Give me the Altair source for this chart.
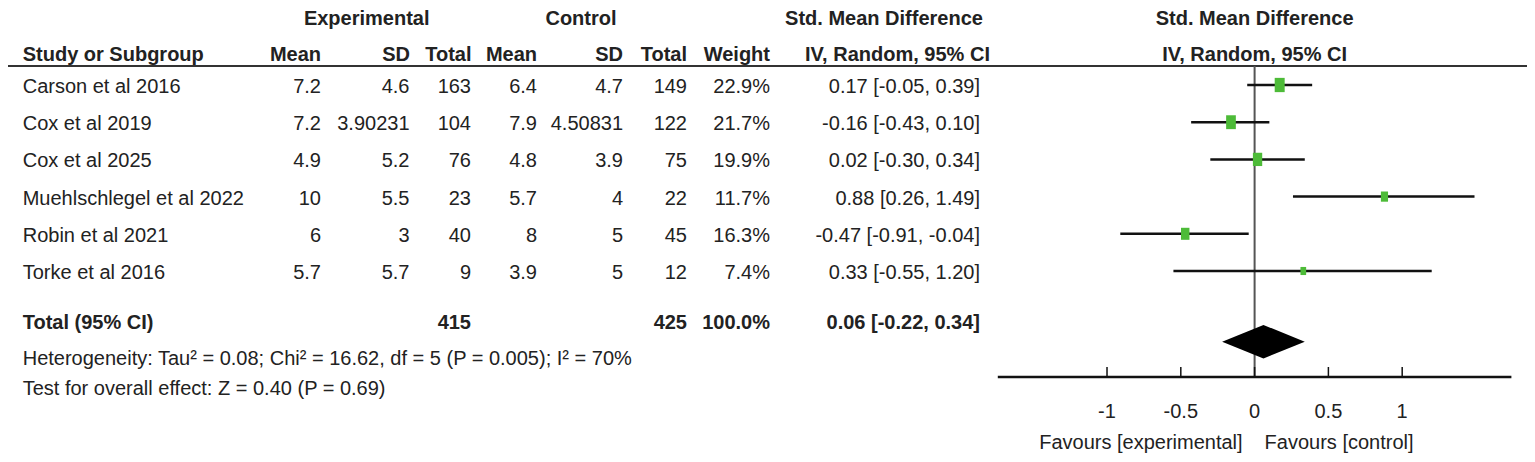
import altair as alt
import pandas as pd

# ---------------- data ----------------
studies = ["Carson et al 2016", "Cox et al 2019", "Cox et al 2025",
           "Muehlschlegel et al 2022", "Robin et al 2021", "Torke et al 2016"]
exp_mean = [7.2, 7.2, 4.9, 10, 6, 5.7]
exp_sd = [4.6, 3.90231, 5.2, 5.5, 3, 5.7]
exp_total = [163, 104, 76, 23, 40, 9]
ctl_mean = [6.4, 7.9, 4.8, 5.7, 8, 3.9]
ctl_sd = [4.7, 4.50831, 3.9, 4, 5, 5]
ctl_total = [149, 122, 75, 22, 45, 12]
weights = [22.9, 21.7, 19.9, 11.7, 16.3, 7.4]
smd = [0.17, -0.16, 0.02, 0.88, -0.47, 0.33]
ci_low = [-0.05, -0.43, -0.30, 0.26, -0.91, -0.55]
ci_high = [0.39, 0.10, 0.34, 1.49, -0.04, 1.20]

total_label = "Total (95% CI)"
total_exp = 415
total_ctl = 425
total_weight = 100.0
total_smd = 0.06
total_low = -0.22
total_high = 0.34

heterogeneity = "Heterogeneity: Tau² = 0.08; Chi² = 16.62, df = 5 (P = 0.005); I² = 70%"
overall_effect = "Test for overall effect: Z = 0.40 (P = 0.69)"
tick_values = [-1, -0.5, 0, 0.5, 1]
tick_labels = ["-1", "-0.5", "0", "0.5", "1"]
axis_limits = [-1.74, 1.74]
favours_left = "Favours [experimental]"
favours_right = "Favours [control]"

# ---------------- layout / style ----------------
W, H = 1519, 446
ROW0, ROWH = 77, 37.2
FONT = "Liberation Sans, Arial, sans-serif"
FS = 20
TXT = "#222222"
GREEN = "#4dbb38"
TEXT_DY = 2

yscale = alt.Scale(domain=[0, 10], range=[ROW0, ROW0 + 10 * ROWH], zero=False, nice=False)
xscale = alt.Scale(domain=axis_limits, range=[989.8, 1503.4], zero=False, nice=False)

ROW_H1, ROW_H2, ROW_LINE = -1.78, -0.81, -0.51
ROW_TOTAL = len(studies) + 0.9
ROW_AXIS, ROW_TICKTOP, ROW_TICKLAB, ROW_FAV = 7.85, 7.58, 8.79, 9.62
ROW_HET, ROW_TEST = 7.37, 8.17
DIAMOND_HALF = 0.45


def fmt(v):
    return f"{v:g}"


df = pd.DataFrame({
    "r": list(range(len(studies))),
    "study": studies,
    "em": [fmt(v) for v in exp_mean],
    "es": [fmt(v) for v in exp_sd],
    "et": [str(v) for v in exp_total],
    "cm": [fmt(v) for v in ctl_mean],
    "cs": [fmt(v) for v in ctl_sd],
    "ct": [str(v) for v in ctl_total],
    "w": [f"{v:.1f}%" for v in weights],
    "ci": [f"{s:.2f} [{l:.2f}, {h:.2f}]" for s, l, h in zip(smd, ci_low, ci_high)],
    "weight": weights,
    "smd": smd,
    "lo": ci_low,
    "hi": ci_high,
})

Y = alt.Y("r:Q", scale=yscale, axis=None)
XV = alt.X("v:Q", scale=xscale, axis=None)


def txt(data, field, x, align="right", bold=False, dy=0, dx=0):
    return alt.Chart(data).mark_text(
        align=align, baseline="middle", font=FONT, fontSize=FS,
        fontWeight="bold" if bold else "normal", color=TXT, dy=dy, dx=dx
    ).encode(x=x, y=Y, text=field)


def const_txt(s, x, row, align="right", bold=False, dy=0, dx=0, v=None):
    d = pd.DataFrame({"t": [s], "r": [row], "v": [v if v is not None else 0]})
    return txt(d, "t:N", x, align, bold, dy, dx)


layers = []

# header line
layers.append(alt.Chart(pd.DataFrame({"r": [ROW_LINE]})).mark_rule(
    color="#333333", strokeWidth=2).encode(x=alt.value(0), x2=alt.value(1522), y=Y))

# header row 1
layers.append(const_txt("Experimental", alt.value(358.7), ROW_H1, "center", True))
layers.append(const_txt("Control", alt.value(573), ROW_H1, "center", True))
layers.append(const_txt("Std. Mean Difference", alt.value(876), ROW_H1, "center", True))
# header row 2
cols = [("Mean", 313), ("SD", 402), ("Total", 463.5), ("Mean", 529), ("SD", 615),
        ("Total", 679), ("Weight", 762)]
layers.append(const_txt("Study or Subgroup", alt.value(14.7), ROW_H2, "left", True))
for name, xp in cols:
    layers.append(const_txt(name, alt.value(xp), ROW_H2, "right", True))
layers.append(const_txt("IV, Random, 95% CI", alt.value(889.5), ROW_H2, "center", True))

# forest headers (centred on the zero line)
layers.append(const_txt("Std. Mean Difference", XV, ROW_H1, "center", True, v=0))
layers.append(const_txt("IV, Random, 95% CI", XV, ROW_H2, "center", True, v=0))

# study rows
layers.append(txt(df, "study:N", alt.value(14.7), "left", dy=TEXT_DY))
for field, xp in [("em", 313), ("es", 401.5), ("et", 463), ("cm", 529), ("cs", 615),
                  ("ct", 679), ("w", 762), ("ci", 972)]:
    layers.append(txt(df, f"{field}:N", alt.value(xp), "right", dy=TEXT_DY))

# total row
TOT_DY = -19
layers.append(const_txt(total_label, alt.value(14.7), ROW_TOTAL, "left", True, TOT_DY))
layers.append(const_txt(str(total_exp), alt.value(463), ROW_TOTAL, "right", True, TOT_DY))
layers.append(const_txt(str(total_ctl), alt.value(679), ROW_TOTAL, "right", True, TOT_DY))
layers.append(const_txt(f"{total_weight:.1f}%", alt.value(762), ROW_TOTAL, "right", True, TOT_DY))
layers.append(const_txt(f"{total_smd:.2f} [{total_low:.2f}, {total_high:.2f}]",
                        alt.value(972), ROW_TOTAL, "right", True, TOT_DY))

# footers
layers.append(const_txt(heterogeneity, alt.value(14.7), ROW_HET, "left"))
layers.append(const_txt(overall_effect, alt.value(14.7), ROW_TEST, "left"))

# zero line
layers.append(alt.Chart(pd.DataFrame({"v": [0], "r": [ROW_LINE], "r2": [ROW_AXIS]})).mark_rule(
    color="#555555", strokeWidth=2).encode(x=XV, y=Y, y2="r2:Q"))

# CI lines
layers.append(alt.Chart(df).mark_rule(color="#111111", strokeWidth=2.5).encode(
    x=alt.X("lo:Q", scale=xscale, axis=None), x2="hi:Q", y=Y))

# squares (area proportional to weight)
rect_shape = "M-0.7,-1L0.7,-1L0.7,1L-0.7,1Z"
layers.append(alt.Chart(df).mark_point(shape=rect_shape, filled=True, opacity=1,
                                       color=GREEN, strokeWidth=0).encode(
    x=alt.X("smd:Q", scale=xscale, axis=None), y=Y,
    size=alt.Size("weight:Q", scale=alt.Scale(domain=[0, 25], range=[0, 222]), legend=None)))

# diamond
dia = pd.DataFrame({
    "v": [total_low, total_smd, total_high],
    "r": [ROW_TOTAL, ROW_TOTAL - DIAMOND_HALF, ROW_TOTAL],
    "r2": [ROW_TOTAL, ROW_TOTAL + DIAMOND_HALF, ROW_TOTAL],
})
layers.append(alt.Chart(dia).mark_area(color="black", opacity=1).encode(
    x=XV, y=Y, y2="r2:Q"))

# axis line, ticks, labels
layers.append(alt.Chart(pd.DataFrame({"v": [axis_limits[0]], "v2": [axis_limits[1]], "r": [ROW_AXIS]}))
              .mark_rule(color="#111111", strokeWidth=2.5).encode(x=XV, x2="v2:Q", y=Y))
ticks = pd.DataFrame({"v": tick_values, "lab": tick_labels,
                      "r": [ROW_TICKTOP] * len(tick_values), "r2": [ROW_AXIS] * len(tick_values)})
layers.append(alt.Chart(ticks).mark_rule(color="#111111", strokeWidth=1.5).encode(
    x=XV, y=Y, y2="r2:Q"))
tick_text = pd.DataFrame({"v": tick_values, "lab": tick_labels, "r": [ROW_TICKLAB] * len(tick_values)})
layers.append(txt(tick_text, "lab:N", XV, "center"))
layers.append(const_txt(favours_left, XV, ROW_FAV, "right", dx=-12, v=0))
layers.append(const_txt(favours_right, XV, ROW_FAV, "left", dx=10, v=0))

chart = alt.layer(*layers).properties(
    width=W, height=H, padding=0,
    autosize=alt.AutoSizeParams(type="none"),
    background="white",
).configure_view(stroke=None)

chart.save("out.html", embed_options={"renderer": "svg", "actions": False})
